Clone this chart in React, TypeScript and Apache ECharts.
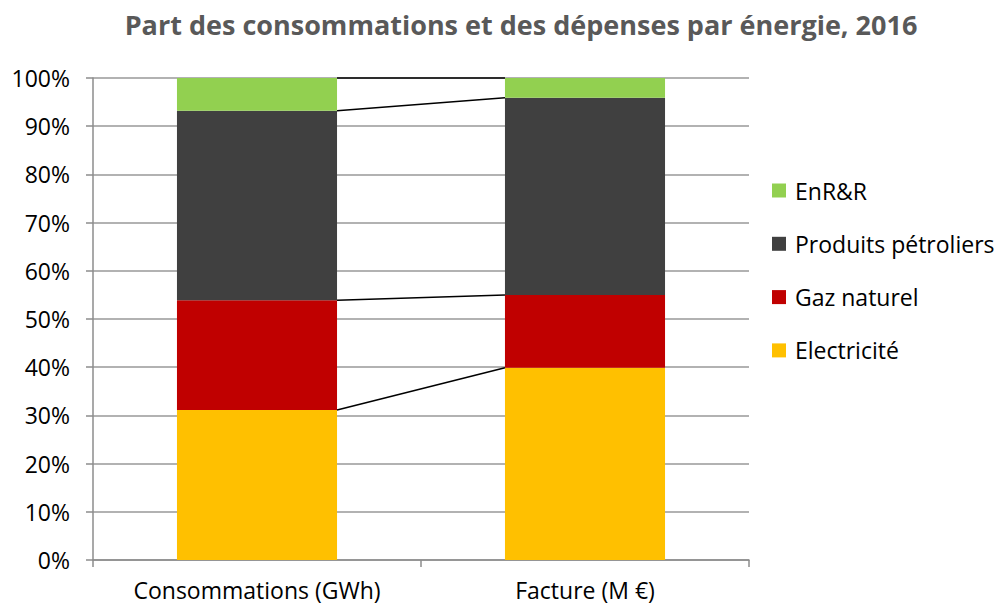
import React, { useEffect, useRef } from "react";
import * as echarts from "echarts";

const categories = ["Consommations (GWh)", "Facture (M €)"];
const electricite = [31.1, 39.9];
const gazNaturel = [22.8, 15.1];
const produitsPetroliers = [39.3, 40.9];
const enrr = [6.8, 4.1];
const legendOrder = ["EnR&R", "Produits pétroliers", "Gaz naturel", "Electricité"];

const FONT = "Open Sans";
const BAR_FRACTION = 0.488;

export default function App() {
  const ref = useRef<HTMLDivElement>(null);
  useEffect(() => {
    if (!ref.current) return;
    const chart = echarts.init(ref.current, null, { renderer: "svg" });
    const layers = [electricite, gazNaturel, produitsPetroliers, enrr];
    const tops: number[][] = [];
    const acc = [0, 0];
    layers.forEach((l) => {
      acc[0] += l[0];
      acc[1] += l[1];
      tops.push([0, acc[0], acc[1]]);
    });
    const barSeries = (name: string, data: number[], color: string) => ({
      name,
      type: "bar",
      stack: "total",
      barWidth: BAR_FRACTION * 100 + "%",
      data,
      itemStyle: { color },
      emphasis: { disabled: true },
    });
    chart.setOption({
      animation: false,
      title: {
        text: "Part des consommations et des dépenses par énergie, 2016",
        left: 516,
        textAlign: "center",
        top: 6,
        textStyle: { fontFamily: FONT, fontSize: 27, fontWeight: "bold", color: "#595959" },
      },
      grid: { left: 93, right: 247, top: 78, bottom: 47, containLabel: false },
      legend: {
        orient: "vertical",
        left: 767,
        top: 174,
        itemWidth: 14,
        itemHeight: 14,
        itemGap: 30.3,
        icon: "rect",
        data: legendOrder,
        textStyle: { fontFamily: FONT, fontSize: 23, lineHeight: 22.5, color: "#000", padding: [0, 0, 0, 4] },
        selectedMode: false,
      },
      xAxis: {
        type: "category",
        data: categories,
        axisLine: { lineStyle: { color: "#8c8c8c", width: 1.5 } },
        axisTick: { show: true, length: 7, alignWithLabel: false, lineStyle: { color: "#8c8c8c", width: 1.5 } },
        axisLabel: { fontFamily: FONT, fontSize: 23, color: "#000", margin: 18 },
      },
      yAxis: {
        type: "value",
        min: 0,
        max: 100,
        interval: 10,
        axisLine: { show: true, lineStyle: { color: "#8c8c8c", width: 1.5 } },
        axisTick: { show: true, length: 7, lineStyle: { color: "#8c8c8c", width: 1.5 } },
        splitLine: { lineStyle: { color: "#999999", width: 1.5 } },
        axisLabel: { fontFamily: FONT, fontSize: 23, color: "#000", formatter: "{value}%", margin: 23 },
      },
      series: [
        barSeries("Electricité", electricite, "#FFC000"),
        barSeries("Gaz naturel", gazNaturel, "#C00000"),
        barSeries("Produits pétroliers", produitsPetroliers, "#404040"),
        barSeries("EnR&R", enrr, "#92D050"),
        {
          type: "custom",
          name: "serieslines",
          z: 10,
          silent: true,
          data: tops,
          encode: { x: 0, y: 1 },
          renderItem: (params: any, api: any) => {
            const a = api.coord([0, api.value(1)]);
            const b = api.coord([1, api.value(2)]);
            const half = (api.size([1, 0])[0] * BAR_FRACTION) / 2;
            return {
              type: "line",
              shape: { x1: a[0] + half, y1: a[1], x2: b[0] - half, y2: b[1] },
              style: { stroke: "#000", lineWidth: 1.5 },
            };
          },
        },
      ],
    });
    return () => chart.dispose();
  }, []);
  return <div ref={ref} style={{ width: 996, height: 607, position: "absolute", left: 0, top: 0 }} />;
}
